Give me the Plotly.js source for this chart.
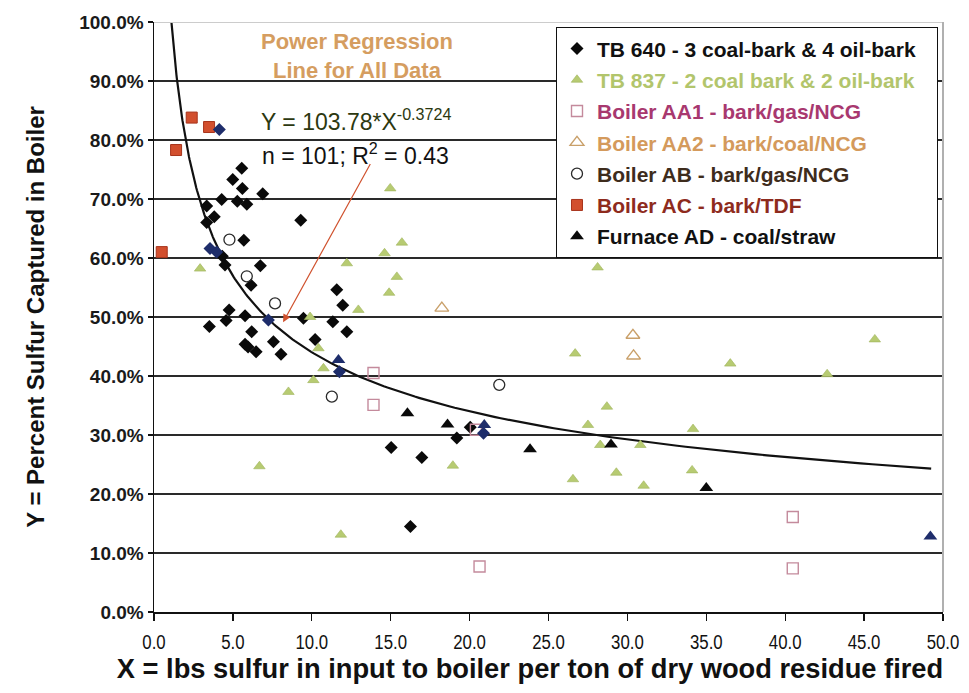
<!DOCTYPE html>
<html>
<head>
<meta charset="utf-8">
<script src="https://cdn.plot.ly/plotly-3.0.1.min.js"></script>
<style>
  html, body { margin: 0; padding: 0; background: #ffffff; }
  #chart { width: 969px; height: 693px; }
</style>
</head>
<body>
<div id="chart"></div>
<script>
// Sulfur capture (%) vs. sulfur input (lb S per dry ton of wood residue fired)

// TB 640 - 3 coal-bark & 4 oil-bark
const tb640X = [5.56, 4.99, 5.60, 6.89, 4.29, 5.28, 5.88, 3.34, 3.82, 3.34, 9.30, 5.69, 4.33, 6.74, 4.50, 6.15,
                11.58, 11.96, 12.22, 11.33, 9.47, 4.76, 5.77, 4.57, 3.51, 6.19, 5.77, 7.57, 5.96, 6.47, 8.05, 10.21,
                20.04, 19.19, 15.03, 16.97, 16.25];
const tb640Y = [75.2, 73.3, 71.8, 70.9, 69.9, 69.6, 69.1, 68.8, 67.0, 66.0, 66.4, 63.0, 60.3, 58.7, 58.8, 55.4,
                54.6, 52.0, 47.5, 49.2, 49.8, 51.2, 50.2, 49.4, 48.4, 47.5, 45.4, 45.8, 44.9, 44.1, 43.7, 46.2,
                31.3, 29.5, 27.9, 26.2, 14.5];

// TB 837 - 2 coal bark & 2 oil-bark
const tb837X = [2.92, 6.68, 8.52, 9.89, 10.42, 10.74, 10.10, 11.84, 12.22, 12.95, 14.61, 15.71, 15.39, 14.90, 14.97,
                18.94, 28.11, 26.69, 36.52, 45.68, 42.66, 28.70, 27.50, 34.16, 28.28, 30.82, 29.30, 34.10, 26.55, 31.03];
const tb837Y = [58.2, 24.7, 37.3, 50.0, 44.7, 41.3, 39.3, 13.1, 59.1, 51.2, 60.8, 62.6, 56.8, 54.1, 71.8,
                24.8, 58.4, 43.8, 42.1, 46.2, 40.3, 34.8, 31.7, 31.0, 28.3, 28.3, 23.6, 24.0, 22.5, 21.4];

// Boiler AA1 - bark/gas/NCG
const aa1X = [13.91, 13.91, 20.4, 20.63, 40.48, 40.48];
const aa1Y = [40.5, 35.1, 30.9, 7.7, 16.1, 7.4];

// Boiler AA2 - bark/coal/NCG
const aa2X = [18.24, 30.35, 30.39];
const aa2Y = [51.5, 46.9, 43.4];

// Boiler AB - bark/gas/NCG
const abX = [4.78, 5.88, 7.67, 11.27, 21.88];
const abY = [63.1, 56.9, 52.3, 36.5, 38.5];

// Boiler AC - bark/TDF
const acX = [2.39, 3.49, 1.40, 0.49];
const acY = [83.8, 82.2, 78.3, 61.0];

// Furnace AD - coal/straw
const adX = [16.06, 18.6, 23.83, 28.96, 35.00];
const adY = [33.7, 31.8, 27.6, 28.4, 21.0];

// Dark blue overlapping marks
const navyDiaX = [4.14, 3.55, 3.97, 7.25, 11.75, 20.88];
const navyDiaY = [81.8, 61.6, 61.0, 49.5, 40.7, 30.3];
const navyTriX = [11.69, 20.93, 49.2];
const navyTriY = [42.7, 31.7, 12.8];

// Power regression fitted to all data: Y = a * X^b
const regA = 103.78;
const regB = -0.3724;
const regXStart = 1.104;
const regXEnd = 49.25;

const regX = [];
const regY = [];
const steps = 240;
for (let i = 0; i <= steps; i++) {
  const t = i / steps;
  const x = regXStart * Math.pow(regXEnd / regXStart, t);
  regX.push(x);
  regY.push(regA * Math.pow(x, regB));
}

const ARIAL = 'Liberation Sans, Arial, sans-serif';

const traces = [
  {
    x: regX, y: regY, mode: 'lines', type: 'scatter', showlegend: false, hoverinfo: 'skip',
    line: { color: '#111111', width: 2.2 }
  },
  {
    x: tb640X, y: tb640Y, mode: 'markers', type: 'scatter', legendgroup: 'g1',
    name: 'TB 640 - 3 coal-bark &amp; 4 oil-bark',
    marker: { symbol: 'diamond', size: 10, color: '#0a0a0a', line: { width: 0 } }
  },
  {
    x: tb837X, y: tb837Y, mode: 'markers', type: 'scatter', legendgroup: 'g2',
    name: '<span style="color:#b2c56c">TB 837 - 2 coal bark &amp; 2 oil-bark</span>',
    marker: { symbol: 'triangle-up', size: 10, color: '#b7cb72', line: { width: 0.6, color: '#9fb35c' } }
  },
  {
    x: aa1X, y: aa1Y, mode: 'markers', type: 'scatter', legendgroup: 'g3',
    name: '<span style="color:#a8386f">Boiler AA1 - bark/gas/NCG</span>',
    marker: { symbol: 'square-open', size: 11, color: '#c48a9c', line: { width: 1.4 } }
  },
  {
    x: aa2X, y: aa2Y, mode: 'markers', type: 'scatter', legendgroup: 'g4',
    name: '<span style="color:#d49a5c">Boiler AA2 - bark/coal/NCG</span>',
    marker: { symbol: 'triangle-up-open', size: 12, color: '#c9a06a', line: { width: 1.4 } }
  },
  {
    x: abX, y: abY, mode: 'markers', type: 'scatter', legendgroup: 'g5',
    name: '<span style="color:#3e2c1c">Boiler AB - bark/gas/NCG</span>',
    marker: { symbol: 'circle-open', size: 11, color: '#2a2a2a', line: { width: 1.3 } }
  },
  {
    x: acX, y: acY, mode: 'markers', type: 'scatter', legendgroup: 'g6',
    name: '<span style="color:#8e2b1d">Boiler AC - bark/TDF</span>',
    marker: { symbol: 'square', size: 11, color: '#d24f2e', line: { width: 1, color: '#a8341c' } }
  },
  {
    x: adX, y: adY, mode: 'markers', type: 'scatter', legendgroup: 'g7',
    name: 'Furnace AD - coal/straw',
    marker: { symbol: 'triangle-up', size: 12, color: '#0a0a0a', line: { width: 0 } }
  },
  {
    x: navyDiaX, y: navyDiaY, mode: 'markers', type: 'scatter', showlegend: false,
    marker: { symbol: 'diamond', size: 10, color: '#1e2d6b', line: { width: 0 } }
  },
  {
    x: navyTriX, y: navyTriY, mode: 'markers', type: 'scatter', showlegend: false,
    marker: { symbol: 'triangle-up', size: 12, color: '#1e2d6b', line: { width: 0 } }
  }
];

const layout = {
  width: 969,
  height: 693,
  paper_bgcolor: '#ffffff',
  plot_bgcolor: '#ffffff',
  margin: { l: 154, r: 26, t: 22, b: 81 },
  showlegend: true,
  font: { family: ARIAL, color: '#111111' },
  xaxis: {
    range: [0, 50],
    tick0: 0, dtick: 5,
    tickformat: '.1f',
    ticks: 'outside', ticklen: 7, tickwidth: 1.2, tickcolor: '#111111',
    showline: true, linecolor: '#111111', linewidth: 1.5,
    showgrid: false, zeroline: false,
    ticklabelstandoff: 3,
    tickfont: { family: ARIAL, size: 21, color: '#111111' },
    title: {
      text: 'X = lbs sulfur in input to boiler per ton of dry wood residue fired',
      font: { family: ARIAL, size: 28, weight: 'bold', color: '#111111' },
      standoff: 6
    }
  },
  yaxis: {
    range: [0, 100],
    tick0: 0, dtick: 10,
    tickformat: '.1f', ticksuffix: '%',
    ticks: 'outside', ticklen: 5, tickwidth: 1.2, tickcolor: '#111111',
    showline: true, linecolor: '#111111', linewidth: 1.5,
    showgrid: true, gridcolor: '#2a2a2a', gridwidth: 1.3,
    zeroline: false,
    tickfont: { family: ARIAL, size: 19, weight: 'bold', color: '#1a1a1a' },
    title: {
      text: 'Y = Percent Sulfur Captured in Boiler',
      font: { family: ARIAL, size: 24, weight: 'bold', color: '#111111' },
      standoff: 28
    }
  },
  legend: {
    x: 0.5095, y: 0.991, xanchor: 'left', yanchor: 'top',
    bgcolor: '#ffffff', bordercolor: '#111111', borderwidth: 1,
    tracegroupgap: 1,
    font: { family: ARIAL, size: 21, weight: 'bold', color: '#111111' }
  },
  shapes: [
    { type: 'line', xref: 'paper', yref: 'y', x0: 0, x1: 1, y0: 100, y1: 100,
      line: { color: '#cccccc', width: 2 } },
    { type: 'line', xref: 'paper', yref: 'paper', x0: 1, x1: 1, y0: 0, y1: 1,
      line: { color: '#b0b0b0', width: 2 } }
  ],
  annotations: [
    {
      x: 12.87, y: 94.2, xref: 'x', yref: 'y', showarrow: false,
      text: 'Power Regression<br>Line for All Data',
      font: { family: ARIAL, size: 22, weight: 'bold', color: '#d59d60' },
      align: 'center'
    },
    {
      x: 12.8, y: 83.4, xref: 'x', yref: 'y', showarrow: false,
      text: 'Y = 103.78*X<sup>-0.3724</sup>',
      font: { family: ARIAL, size: 23, color: '#2c3810' }
    },
    {
      x: 12.8, y: 77.6, xref: 'x', yref: 'y', showarrow: false,
      text: 'n = 101; R<sup>2</sup> = 0.43',
      font: { family: ARIAL, size: 23, color: '#111111' }
    },
    {
      x: 8.18, y: 49.1, xref: 'x', yref: 'y',
      ax: 13.76, ay: 76.2, axref: 'x', ayref: 'y',
      text: '', showarrow: true,
      arrowhead: 2, arrowsize: 1.3, arrowwidth: 1.2, arrowcolor: '#d0522e'
    }
  ]
};

// Squeeze a text element horizontally about its own centre (narrow-face look)
function squeezeText(el, sx, shiftX) {
  const bb = el.getBBox();
  const cx = bb.x + bb.width / 2;
  const prev = el.getAttribute('transform') || '';
  el.setAttribute('transform',
    prev + ' translate(' + (cx + (shiftX || 0)) + ',0) scale(' + sx + ',1) translate(' + (-cx) + ',0)');
}

Plotly.newPlot('chart', traces, layout, { displayModeBar: false, staticPlot: true }).then(function (gd) {
  gd.querySelectorAll('.xaxislayer-above .xtick text').forEach(function (t) { squeezeText(t, 0.8, 0); });
  const xt = gd.querySelector('.g-xtitle text');
  if (xt) {
    const w = xt.getBBox().width;
    squeezeText(xt, 827 / w, 530 - 548.5);
  }
  // give the legend box some extra room on its right side
  const bg = gd.querySelector('.legend rect.bg');
  if (bg) {
    const cur = parseFloat(bg.getAttribute('width')) || 0;
    bg.setAttribute('width', Math.max(cur, 381));
  }
});
</script>
</body>
</html>
